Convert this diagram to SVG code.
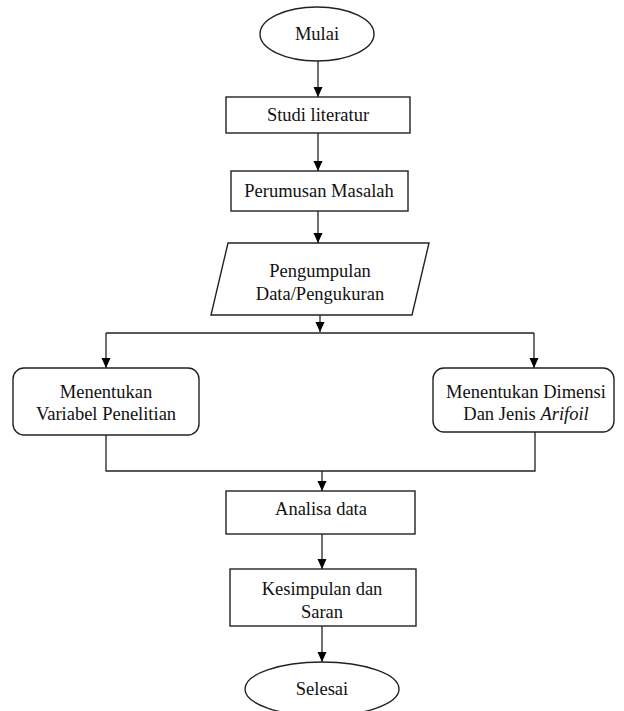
<svg xmlns="http://www.w3.org/2000/svg" width="624" height="711" viewBox="0 0 624 711">
<defs>
<marker id="arr" markerUnits="userSpaceOnUse" markerWidth="10" markerHeight="10" refX="10" refY="5" orient="auto">
<path d="M0,0.5 L10,5 L0,9.5 z" fill="#000"/>
</marker>
<style>
.s{fill:#fff;stroke:#222;stroke-width:1.4}
.t{font-family:"Liberation Serif","Times New Roman",serif;font-size:18.5px;fill:#111;text-anchor:middle;dominant-baseline:central}
.c{fill:none;stroke:#222;stroke-width:1.3}
</style>
</defs>
<rect width="624" height="711" fill="#fff"/>
<g id="connectors">
<path class="c" d="M318 61 V97" marker-end="url(#arr)"/>
<path class="c" d="M318 133 V171" marker-end="url(#arr)"/>
<path class="c" d="M318 211 V243" marker-end="url(#arr)"/>
<path class="c" d="M320 315 V332" marker-end="url(#arr)"/>
<path class="c" d="M106 333 H534"/>
<path class="c" d="M106 333 V368" marker-end="url(#arr)"/>
<path class="c" d="M534 333 V368" marker-end="url(#arr)"/>
<path class="c" d="M106 435 V471 H535 V432"/>
<path class="c" d="M322 471 V491" marker-end="url(#arr)"/>
<path class="c" d="M322 534 V569" marker-end="url(#arr)"/>
<path class="c" d="M322 626 V662" marker-end="url(#arr)"/>
</g>
<g id="mulai">
<ellipse class="s" cx="317" cy="34" rx="57" ry="27"/>
<text class="t" x="317" y="34">Mulai</text>
</g>
<g id="studi">
<rect class="s" x="226" y="97" width="184" height="36"/>
<text class="t" x="318" y="115">Studi literatur</text>
</g>
<g id="perumusan">
<rect class="s" x="231" y="171" width="177" height="40"/>
<text class="t" x="319" y="191">Perumusan Masalah</text>
</g>
<g id="pengumpulan">
<polygon class="s" points="228,243 429,243 412,315 211,315"/>
<text class="t" x="320" y="271">Pengumpulan</text>
<text class="t" x="320" y="294">Data/Pengukuran</text>
</g>
<g id="variabel">
<rect class="s" x="13" y="368" width="186" height="67" rx="11"/>
<text class="t" x="106" y="392">Menentukan</text>
<text class="t" x="106" y="414">Variabel Penelitian</text>
</g>
<g id="dimensi">
<rect class="s" x="433" y="368" width="181" height="64" rx="11"/>
<text class="t" x="526" y="392">Menentukan Dimensi</text>
<text class="t" x="526" y="414">Dan Jenis <tspan font-style="italic">Arifoil</tspan></text>
</g>
<g id="analisa">
<rect class="s" x="226" y="491" width="189" height="43"/>
<text class="t" x="321" y="509">Analisa data</text>
</g>
<g id="kesimpulan">
<rect class="s" x="230" y="569" width="186" height="57"/>
<text class="t" x="322" y="589">Kesimpulan dan</text>
<text class="t" x="322" y="612">Saran</text>
</g>
<g id="selesai">
<ellipse class="s" cx="322" cy="689" rx="77" ry="27"/>
<text class="t" x="322" y="689">Selesai</text>
</g>
</svg>
